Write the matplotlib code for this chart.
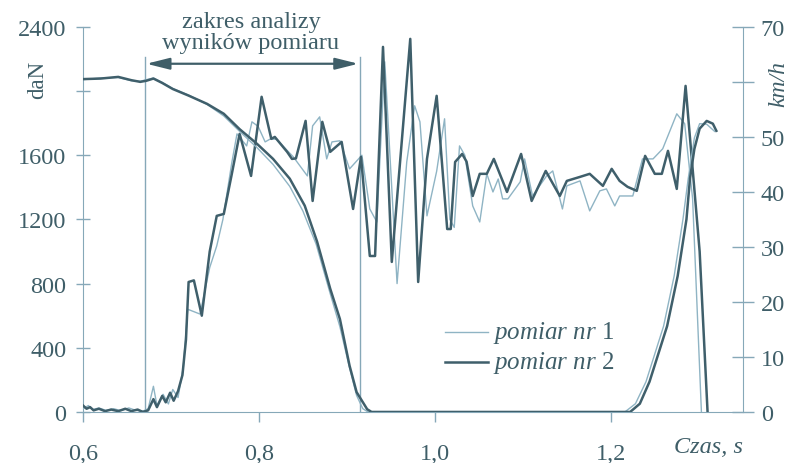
import matplotlib
matplotlib.use("Agg")
import matplotlib.pyplot as plt
from matplotlib.lines import Line2D

plt.rcParams['font.family'] = ['Liberation Serif', 'DejaVu Serif']
plt.rcParams['mathtext.fontset'] = 'custom'
plt.rcParams['mathtext.rm'] = 'Liberation Serif'
plt.rcParams['mathtext.it'] = 'Liberation Serif:italic'

# siła hamowania, pomiar nr 1 (daN)
t_f1 = [0.600, 0.606, 0.611, 0.618, 0.626, 0.635, 0.643, 0.652, 0.660, 0.668,
        0.674, 0.680, 0.684, 0.691, 0.697, 0.702, 0.708, 0.714, 0.719, 0.733,
        0.744, 0.752, 0.759, 0.769, 0.775, 0.786, 0.792, 0.799, 0.807, 0.8125,
        0.820, 0.832, 0.839, 0.855, 0.861, 0.869, 0.877, 0.883, 0.892, 0.903,
        0.917, 0.926, 0.934, 0.943, 0.957, 0.968, 0.977, 0.983, 0.991, 1.002,
        1.011, 1.017, 1.022, 1.028, 1.034, 1.043, 1.051, 1.059, 1.066, 1.072,
        1.077, 1.083, 1.097, 1.102, 1.111, 1.127, 1.134, 1.145, 1.150, 1.165,
        1.176, 1.1875, 1.195, 1.2045, 1.210, 1.225, 1.236, 1.248, 1.259, 1.275,
        1.284, 1.293, 1.303]
f1 = [20, 40, 15, 25, 10, 20, 8, 25, 10, 5,
      20, 160, 40, 110, 50, 140, 90, 280, 640, 610,
      900, 1035, 1200, 1550, 1733, 1658, 1808, 1780, 1683, 1700,
      1700, 1630, 1590, 1471, 1783, 1839, 1577, 1683, 1690, 1515,
      1600, 1265, 1184, 2182, 800, 1558, 1908, 1808, 1222, 1500,
      1827, 1200, 1150, 1658, 1600, 1284, 1184, 1484, 1371, 1452,
      1328, 1328, 1434, 1577, 1346, 1471, 1502, 1265, 1409, 1440,
      1253, 1378, 1390, 1284, 1346, 1346, 1577, 1577, 1640, 1858,
      1796, 1328, 0]

# siła hamowania, pomiar nr 2 (daN)
t_f2 = [0.600, 0.604, 0.608, 0.612, 0.618, 0.625, 0.632, 0.640, 0.648, 0.655,
        0.662, 0.668, 0.674, 0.680, 0.684, 0.690, 0.694, 0.699, 0.703, 0.708,
        0.713, 0.717, 0.720, 0.726, 0.735, 0.744, 0.752, 0.760, 0.769, 0.778,
        0.791, 0.803, 0.814, 0.818, 0.832, 0.8375, 0.842, 0.853, 0.861, 0.872,
        0.881, 0.894, 0.907, 0.916, 0.926, 0.932, 0.941, 0.951, 0.972, 0.981,
        0.991, 1.002, 1.014, 1.018, 1.023, 1.031, 1.036, 1.043, 1.051, 1.059,
        1.067, 1.082, 1.098, 1.110, 1.126, 1.142, 1.150, 1.165, 1.176, 1.191,
        1.201, 1.210, 1.219, 1.2295, 1.239, 1.250, 1.258, 1.265, 1.275, 1.285,
        1.301, 1.310]
f2 = [40, 20, 30, 10, 20, 5, 15, 5, 20, 5,
      15, 0, 10, 80, 30, 100, 60, 120, 70, 130,
      230, 450, 810, 820, 600, 1000, 1222, 1234, 1480, 1733,
      1471, 1964, 1702, 1714, 1621, 1577, 1580, 1814, 1315, 1808,
      1621, 1683, 1265, 1590, 972, 972, 2275, 935, 2325, 810,
      1577, 1970, 1140, 1140, 1558, 1608, 1560, 1346, 1484, 1484,
      1577, 1371, 1608, 1315, 1502, 1346, 1440, 1465, 1484, 1409,
      1515, 1440, 1403, 1378, 1596, 1484, 1484, 1627, 1390, 2032,
      1000, 0]

# prędkość, pomiar nr 1 (km/h)
t_v1 = [0.600, 0.620, 0.640, 0.655, 0.665, 0.672, 0.680, 0.690, 0.702, 0.720,
        0.741, 0.760, 0.778, 0.798, 0.816, 0.835, 0.850, 0.865, 0.881, 0.892,
        0.903, 0.911, 0.918, 0.924,
        1.216, 1.228, 1.240, 1.260, 1.272, 1.282, 1.288, 1.295, 1.301, 1.309,
        1.318]
v1 = [60.4, 60.7, 60.8, 60.2, 60.1, 60.4, 60.7, 59.9, 58.8, 57.6,
      55.9, 53.8, 51.0, 48.0, 45.0, 41.0, 36.5, 30.5, 21.5, 15.5,
      8.0, 3.0, 0.6, 0.0,
      0.0, 1.5, 5.5, 15.6, 24.7, 35.0, 42.4, 49.8, 52.4, 52.3,
      51.0]

# prędkość, pomiar nr 2 (km/h)
t_v2 = [0.600, 0.620, 0.640, 0.655, 0.665, 0.672, 0.680, 0.690, 0.702, 0.720,
        0.741, 0.760, 0.778, 0.798, 0.816, 0.835, 0.852, 0.866, 0.881, 0.892,
        0.903, 0.911, 0.923, 0.928,
        1.222, 1.233, 1.244, 1.264, 1.276, 1.286, 1.290, 1.295, 1.301, 1.309,
        1.316, 1.320]
v2 = [60.5, 60.6, 60.9, 60.3, 60.0, 60.2, 60.6, 59.8, 58.7, 57.5,
      56.0, 54.2, 51.4, 48.7, 46.0, 42.4, 37.5, 31.0, 22.4, 16.9,
      8.4, 3.6, 0.5, 0.0,
      0.0, 1.5, 5.5, 15.6, 24.7, 35.0, 42.4, 47.8, 51.5, 52.9,
      52.4, 51.1]

# granice zakresu analizy (s)
zakres = [0.670, 0.915]

f_ticks = [0, 400, 800, 1200, 1600, 2000, 2400]
f_labels = ['0', '400', '800', '1200', '1600', '', '2400']
v_ticks = [0, 10, 20, 30, 40, 50, 60, 70]
v_labels = ['0', '10', '20', '30', '40', '50', '', '70']
t_ticks = [0.6, 0.8, 1.0, 1.2]
t_labels = ['0,6', '0,8', '1,0', '1,2']

axis_col = '#86a8b8'
text_col = '#3f5e68'
dark = '#3f5f6b'
light = '#8fb4c4'
fs = 17.5

fig = plt.figure(figsize=(7.91, 4.64), dpi=100)
ax = fig.add_axes([0.105, 0.110, 0.834, 0.830])
ax2 = ax.twinx()

ax.plot(t_f1, f1, color=light, lw=1.0, zorder=3)
ax.plot(t_f2, f2, color=dark, lw=1.8, zorder=4)
ax2.plot(t_v1, v1, color=light, lw=1.0, zorder=3)
ax2.plot(t_v2, v2, color=dark, lw=1.8, zorder=4)

ax.set_xlim(0.6, 1.35)
ax.set_ylim(0, 2400)
ax2.set_ylim(0, 70)

# pionowe linie i strzałka zakresu analizy
for xv in zakres:
    ax.plot([xv, xv], [0, 2215], color=axis_col, lw=1.0, zorder=2)
ax.annotate('', xy=(zakres[0] + 0.002, 2170), xytext=(zakres[1] - 0.002, 2170),
            arrowprops=dict(arrowstyle='<|-|>,head_length=1.4,head_width=0.35',
                            color=text_col, lw=1.6, shrinkA=0, shrinkB=0))
fig.text(251 / 791, 1 - 33 / 464, 'zakres analizy\nwyników pomiaru', ha='center',
         va='center', fontsize=fs, color=text_col, linespacing=0.95)

for a in (ax, ax2):
    a.spines['top'].set_visible(False)
ax.spines['right'].set_visible(False)
ax2.spines['left'].set_visible(False)
ax2.spines['bottom'].set_visible(False)
ax.spines['left'].set_color(axis_col)
ax.spines['bottom'].set_color(axis_col)
ax2.spines['right'].set_color(axis_col)

ax.set_yticks(f_ticks)
ax.set_yticklabels(f_labels)
ax2.set_yticks(v_ticks)
ax2.set_yticklabels(v_labels)
ax.set_xticks(t_ticks)
ax.set_xticklabels(t_labels)

ax.tick_params(axis='y', direction='inout', length=10, width=1, color=axis_col,
               labelcolor=text_col, labelsize=fs, pad=7)
ax2.tick_params(axis='y', direction='inout', length=16, width=1, color=axis_col,
                labelcolor=text_col, labelsize=fs, pad=5)
ax.tick_params(axis='x', direction='out', length=7, width=1, color=axis_col,
               labelcolor=text_col, labelsize=fs, pad=15)

fig.text(38 / 791, 1 - 80 / 464, 'daN', rotation=90, ha='center', va='center',
         fontsize=fs - 1, color=text_col)
fig.text(779 / 791, 1 - 84 / 464, 'km/h', rotation=90, ha='center', va='center',
         fontsize=fs - 0.5, color=text_col, style='italic')
ax.text(0.948, -0.063, 'Czas, s', transform=ax.transAxes, ha='center', va='top',
        fontsize=fs, color=text_col, style='italic')

# legenda
for yy, col, lw, nr in ((0.208, light, 1.0, '1'), (0.130, dark, 1.8, '2')):
    ax.add_line(Line2D([0.548, 0.614], [yy, yy], transform=ax.transAxes,
                       color=col, lw=lw))
    ax.text(0.622, yy, r'$\mathit{pomiar\ nr}$ ' + nr, transform=ax.transAxes,
            ha='left', va='center', fontsize=fs + 0.5, color=text_col)

fig.savefig('out.png', dpi=100)
